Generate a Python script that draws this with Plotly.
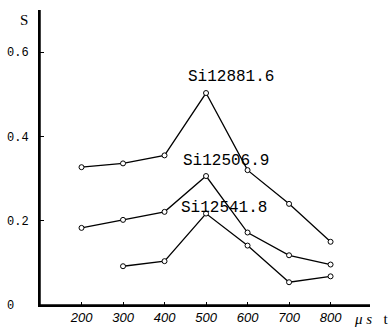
import plotly.graph_objects as go

x_a = [200, 300, 400, 500, 600, 700, 800]
s_12881 = [0.327, 0.336, 0.355, 0.503, 0.320, 0.240, 0.150]
x_b = [200, 300, 400, 500, 600, 700, 800]
s_12506 = [0.183, 0.202, 0.221, 0.306, 0.172, 0.118, 0.096]
x_c = [300, 400, 500, 600, 700, 800]
s_12541 = [0.092, 0.104, 0.217, 0.141, 0.054, 0.068]

labels = ["Si12881.6", "Si12506.9", "Si12541.8"]
label_pos = [(560, 0.541), (548, 0.342), (543, 0.230)]

x_ticks = [200, 300, 400, 500, 600, 700, 800]
y_ticks = [0, 0.2, 0.4, 0.6]
y_ticktext = ["0\u00a0\u00a0\u00a0", "0.2\u00a0", "0.4\u00a0", "0.6\u00a0"]

fnt = "Liberation Mono, DejaVu Sans Mono, monospace"

fig = go.Figure()
for xs, ys in [(x_a, s_12881), (x_b, s_12506), (x_c, s_12541)]:
    fig.add_trace(go.Scatter(
        x=xs, y=ys, mode="lines+markers",
        line=dict(color="black", width=1.3),
        marker=dict(symbol="circle", size=5, color="white",
                    line=dict(color="black", width=1)),
        showlegend=False, hoverinfo="skip"))

for t, (lx, ly) in zip(labels, label_pos):
    fig.add_annotation(x=lx, y=ly, text=t, showarrow=False,
                       font=dict(family=fnt, size=16, color="black"),
                       xanchor="center", yanchor="middle")

fig.add_annotation(xref="paper", yref="paper", x=-0.03, y=1.0, text="S",
                   showarrow=False, xanchor="right", yanchor="top",
                   font=dict(family="Liberation Serif, serif", size=15, color="black"))
fig.add_annotation(xref="paper", yref="paper", x=1.06, y=-0.015,
                   text="<i>μ\u00a0s</i>\u00a0\u00a0\u00a0t",
                   showarrow=False, xanchor="right", yanchor="top",
                   font=dict(family="Liberation Serif, serif", size=15, color="black"))

# axis lines
fig.add_shape(type="line", xref="paper", yref="paper", x0=0, x1=0, y0=0, y1=1,
              line=dict(color="black", width=1.5))
fig.add_shape(type="line", xref="paper", yref="paper", x0=0, x1=1, y0=0, y1=0,
              line=dict(color="black", width=1.5))

fig.update_layout(
    width=392, height=327,
    margin=dict(l=40, r=22, t=10, b=22, autoexpand=False),
    paper_bgcolor="white", plot_bgcolor="white",
    xaxis=dict(range=[100, 895], tickvals=x_ticks,
               ticktext=[f"<i>{v}</i>" for v in x_ticks],
               showgrid=False, zeroline=False, showline=True, automargin=False,
               linecolor="black", linewidth=1.5, ticks="inside",
               ticklen=3, tickcolor="black",
               tickfont=dict(family="Liberation Sans, Arial", size=13, color="black")),
    yaxis=dict(range=[0, 0.70], tickvals=y_ticks, ticktext=y_ticktext,
               showgrid=False, zeroline=False, showline=True, automargin=False,
               linecolor="black", linewidth=1.5, ticks="inside",
               ticklen=4, tickcolor="black",
               tickfont=dict(family=fnt, size=12, color="black")),
)

fig.write_html("out.html", config={"displayModeBar": False},
               post_script="document.body.style.margin='0';document.body.style.padding='0';")
